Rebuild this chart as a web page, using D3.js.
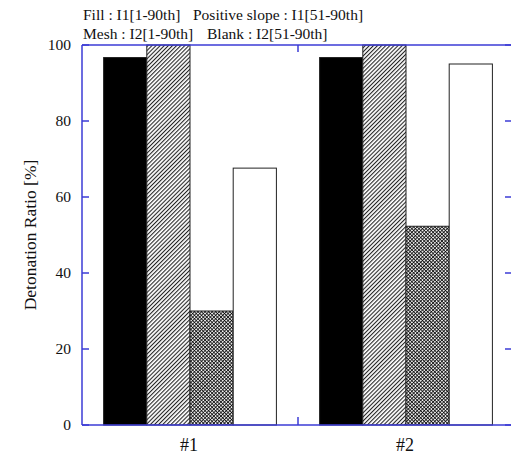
<!DOCTYPE html>
<html><head><meta charset="utf-8">
<script src="https://cdn.jsdelivr.net/npm/d3@7"></script>
<style>body{margin:0;background:#fff}svg{display:block}text{font-family:"Liberation Serif","Times New Roman",serif;fill:#111}</style>
</head><body>
<script>
const categories = ["#1", "#2"];
const seriesNames = ["Fill", "Positive slope", "Mesh", "Blank"];
const fillVals = [96.7, 96.7];
const slopeVals = [100, 100];
const meshVals = [30.0, 52.3];
const blankVals = [67.6, 95.0];
const yTicks = [0, 20, 40, 60, 80, 100];
const legendRow1 = ["Fill : I1[1-90th]", "Positive slope : I1[51-90th]"];
const legendRow2 = ["Mesh : I2[1-90th]", "Blank : I2[51-90th]"];
const yLabel = "Detonation Ratio [%]";

const W = 511, H = 456;
const m = {left: 82, right: -3, top: 45, bottom: 31};
const svg = d3.select("body").append("svg").attr("width", W).attr("height", H);
const defs = svg.append("defs");
const hp = defs.append("pattern").attr("id","hatch").attr("patternUnits","userSpaceOnUse")
  .attr("width",2.9).attr("height",6).attr("patternTransform","rotate(45)");
hp.append("rect").attr("width",2.9).attr("height",6).attr("fill","#fff");
hp.append("line").attr("x1",0.6).attr("x2",0.6).attr("y1",0).attr("y2",6).attr("stroke","#000").attr("stroke-width",0.95);
const mp = defs.append("pattern").attr("id","mesh").attr("patternUnits","userSpaceOnUse")
  .attr("width",2.5).attr("height",2.5).attr("patternTransform","rotate(45)");
mp.append("rect").attr("width",2.5).attr("height",2.5).attr("fill","#fff");
mp.append("line").attr("x1",0.5).attr("x2",0.5).attr("y1",0).attr("y2",2.5).attr("stroke","#000").attr("stroke-width",0.8);
mp.append("line").attr("y1",0.5).attr("y2",0.5).attr("x1",0).attr("x2",2.5).attr("stroke","#000").attr("stroke-width",0.8);

const x0 = d3.scaleBand().domain(categories).range([m.left, W - m.right]).paddingInner(0.2).paddingOuter(0.1);
const x1 = d3.scaleBand().domain(seriesNames).range([0, x0.bandwidth()]);
const y = d3.scaleLinear().domain([0, 100]).range([H - m.bottom, m.top]);

const fills = {"Fill":"#000","Positive slope":"url(#hatch)","Mesh":"url(#mesh)","Blank":"#fff"};
const data = categories.map((c,i)=>({cat:c, vals:[fillVals[i], slopeVals[i], meshVals[i], blankVals[i]]}));
const g = svg.append("g");
data.forEach(d=>{
  seriesNames.forEach((s,j)=>{
    g.append("rect").attr("x", x0(d.cat)+x1(s)).attr("y", y(d.vals[j]))
      .attr("width", x1.bandwidth()).attr("height", y(0)-y(d.vals[j]))
      .attr("fill", fills[s]).attr("stroke","#222").attr("stroke-width",1);
  });
});

const ac = "#3b3bd6";
const xL = m.left, xR = W - m.right, yT = m.top, yB = H - m.bottom;
const ax = svg.append("g").attr("stroke", ac).attr("stroke-width", 1.5).attr("fill","none");
ax.append("line").attr("x1",xL).attr("x2",xL).attr("y1",yT).attr("y2",yB);
ax.append("line").attr("x1",xL).attr("x2",xR).attr("y1",yB).attr("y2",yB);
ax.append("line").attr("x1",xL).attr("x2",xR).attr("y1",yT).attr("y2",yT);
yTicks.forEach(t=>{
  ax.append("line").attr("x1",xL).attr("x2",xL+7).attr("y1",y(t)).attr("y2",y(t));
  ax.append("line").attr("x1",W-6).attr("x2",W).attr("y1",y(t)).attr("y2",y(t));
  svg.append("text").attr("x", xL-11).attr("y", y(t)).attr("dy","0.35em").attr("text-anchor","end")
    .attr("font-size",15.5).text(t);
});
const mid = (x0(categories[0]) + x0.bandwidth() + x0(categories[1]))/2;
ax.append("line").attr("x1",mid).attr("x2",mid).attr("y1",yB).attr("y2",yB-8);
ax.append("line").attr("x1",mid).attr("x2",mid).attr("y1",yT).attr("y2",yT+7);
categories.forEach(c=>{
  svg.append("text").attr("x", x0(c)+x0.bandwidth()/2 - 1).attr("y", yB+26).attr("text-anchor","middle")
    .attr("font-size",18).text(c);
});
svg.append("text").attr("transform",`translate(36,${(yT+yB)/2}) rotate(-90)`).attr("text-anchor","middle")
  .attr("font-size",17.5).text(yLabel);
const lx = [[83, 193], [83, 207]];
[legendRow1, legendRow2].forEach((row,i)=>{
  row.forEach((l,k)=>{
    svg.append("text").attr("x",lx[i][k]).attr("y",20+i*19).attr("font-size",15.5).text(l);
  });
});
</script>
</body></html>
